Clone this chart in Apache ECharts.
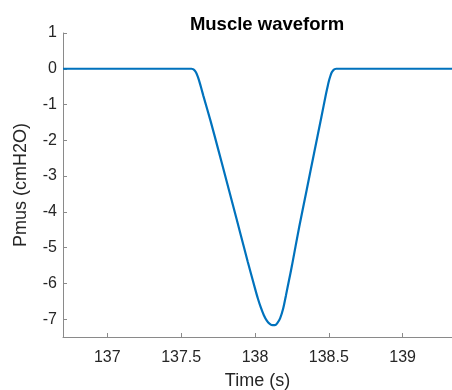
<!DOCTYPE html>
<html>
<head>
<meta charset="utf-8">
<script src="https://cdn.jsdelivr.net/npm/echarts@6/dist/echarts.min.js"></script>
<style>html,body{margin:0;padding:0;background:#fff}#c{width:452px;height:390px}</style>
</head>
<body>
<div id="c"></div>
<script>
var titleText = 'Muscle waveform';
var xLabel = 'Time (s)';
var yLabel = 'Pmus (cmH2O)';
var xTicks = [137, 137.5, 138, 138.5, 139];
var yTicks = [-7, -6, -5, -4, -3, -2, -1, 0, 1];
var timeS = [136.7, 137.57, 137.58, 137.59, 137.60, 137.61, 137.62, 137.63, 137.64, 137.65,
  137.70, 137.75, 137.80, 137.85, 137.90, 137.95, 138.00, 138.02, 138.04, 138.06, 138.08,
  138.10, 138.12, 138.135, 138.15, 138.17, 138.19, 138.21, 138.23, 138.25, 138.30, 138.35,
  138.40, 138.45, 138.48, 138.49, 138.50, 138.51, 138.52, 138.53, 138.54, 138.55, 139.334];
var pmus = [0, 0, -0.01, -0.04, -0.10, -0.19, -0.31, -0.45, -0.60, -0.75,
  -1.47, -2.24, -3.02, -3.80, -4.59, -5.38, -6.14, -6.43, -6.68, -6.89, -7.04,
  -7.13, -7.17, -7.17, -7.12, -6.98, -6.72, -6.33, -5.92, -5.51, -4.41, -3.39,
  -2.36, -1.34, -0.72, -0.53, -0.35, -0.21, -0.10, -0.04, -0.01, 0, 0];

var data = timeS.map(function (t, i) { return [t, pmus[i]]; });
var chart = echarts.init(document.getElementById('c'));
var axisCol = '#8a8a8a';
var txtCol = '#262626';
var font = 'Liberation Sans, Arial, Helvetica, sans-serif';
chart.setOption({
  animation: false,
  title: {
    text: titleText, left: 262, top: 10, textAlign: 'center',
    textStyle: { fontFamily: font, fontSize: 18.5, fontWeight: 'bold', color: '#000' }
  },
  grid: { left: 63, right: 0, top: 33, bottom: 53, containLabel: false, outerBoundsMode: 'none' },
  xAxis: {
    type: 'value', min: 136.7, max: 139.334,
    name: xLabel, nameLocation: 'middle', nameGap: 35,
    nameTextStyle: { fontFamily: font, fontSize: 18, color: txtCol },
    axisLine: { show: true, onZero: false, lineStyle: { color: axisCol, width: 1 } },
    axisTick: { show: true, inside: true, length: 4, customValues: xTicks, lineStyle: { color: axisCol } },
    axisLabel: { customValues: xTicks, margin: 13, fontFamily: font, fontSize: 16, color: txtCol,
      formatter: function (v) { return String(v); } },
    splitLine: { show: false }
  },
  yAxis: {
    type: 'value', min: -7.5, max: 1,
    name: yLabel, nameLocation: 'middle', nameGap: 33, nameRotate: 90,
    nameTextStyle: { fontFamily: font, fontSize: 18, color: txtCol },
    axisLine: { show: true, onZero: false, lineStyle: { color: axisCol, width: 1 } },
    axisTick: { show: true, inside: true, length: 4, customValues: yTicks, lineStyle: { color: axisCol } },
    axisLabel: { customValues: yTicks, margin: 6, fontFamily: font, fontSize: 16, color: txtCol },
    splitLine: { show: false }
  },
  series: [{
    type: 'line', data: data, showSymbol: false, symbol: 'none',
    lineStyle: { color: '#0072BD', width: 2.2 },
    smooth: 0.3
  }]
});
</script>
</body>
</html>
